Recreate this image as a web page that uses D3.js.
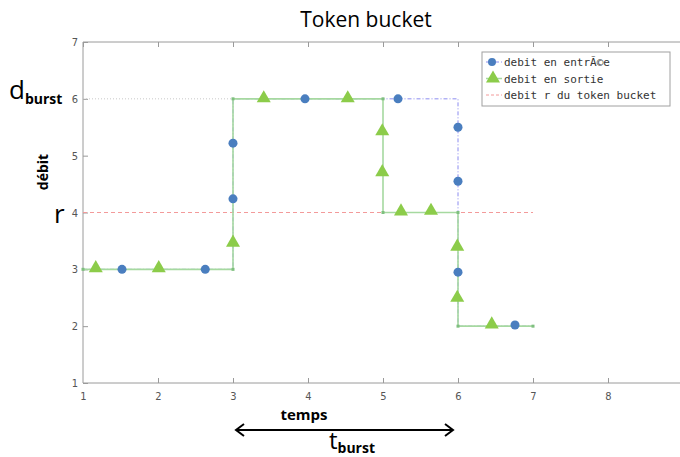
<!DOCTYPE html>
<html><head><meta charset="utf-8">
<script src="https://cdn.jsdelivr.net/npm/d3@7"></script>
<style>body{margin:0;background:#fff}svg{display:block}</style>
</head><body>
<script>
// ---- data ----
const title = "Token bucket";
const xTicks = [1,2,3,4,5,6,7,8,9];
const yTicks = [1,2,3,4,5,6,7];
const legendLabels = ["debit en entrÃ©e", "debit en sortie", "debit r du token bucket"];
// input (entrée) step profile and sample points
const inStepX = [1,3,3,6,6,7];
const inStepY = [3,3,6,6,2,2];
const inPtsX = [1.52,2.63,3,3,3.96,5.2,6,6,6,6.76];
const inPtsY = [3,3,4.24,5.22,6,6,5.5,4.55,2.95,2.02];
// output (sortie) step profile and sample points
const outStepX = [1,3,3,5,5,6,6,7];
const outStepY = [3,3,6,6,4,4,2,2];
const outPtsX = [1.17,2.01,3,3.41,4.53,4.99,4.99,5.24,5.64,5.99,5.99,6.45];
const outPtsY = [3.02,3.02,3.47,6.01,6.01,5.43,4.71,4.02,4.03,3.4,2.5,2.03];
// token rate r and burst rate
const rateX = [1,7], rateY = [4,4];
const burstX = [1,3], burstY = [6,6];

const W = 680, H = 457;
const svg = d3.select("body").append("svg").attr("width", W).attr("height", H);
const m = {left:83, top:42, right:683, bottom:383};
const x = d3.scaleLinear().domain([1,9]).range([m.left, m.right]);
const y = d3.scaleLinear().domain([1,7]).range([m.bottom, m.top]);

const axCol = "#9a9a9a", tickTxt = "#555";
// axes (box with inward ticks)
const gx = svg.append("g").attr("transform", `translate(0,${m.bottom})`)
  .call(d3.axisBottom(x).tickValues(xTicks).tickSize(-5).tickPadding(9).tickFormat(d3.format("d")));
const gxt = svg.append("g").attr("transform", `translate(0,${m.top})`)
  .call(d3.axisTop(x).tickValues(xTicks).tickSize(-5).tickFormat(""));
const gy = svg.append("g").attr("transform", `translate(${m.left},0)`)
  .call(d3.axisLeft(y).tickValues(yTicks).tickSize(-5).tickPadding(5).tickFormat(d3.format("d")));
[gx,gxt,gy].forEach(g=>{
  g.selectAll("path,line").attr("stroke", axCol);
  g.selectAll("text").attr("fill", tickTxt).style("font-family","DejaVu Sans Condensed, DejaVu Sans").style("font-size","11px");
});
gx.select(".domain").attr("d", `M${m.left},0H${m.right}`);
gxt.select(".domain").attr("d", `M${m.left},0H${m.right}`);
gy.select(".domain").attr("d", `M0,${m.bottom}V${m.top}`);
gx.selectAll(".tick").filter(d=>d===1).select("line").remove();

const line = d3.line().x(d=>x(d[0])).y(d=>y(d[1]));
const zip = (a,b)=>a.map((v,i)=>[v,b[i]]);

// burst reference (dotted gray)
svg.append("path").attr("d", line(zip(burstX,burstY))).attr("fill","none")
  .attr("stroke","#c8c8c8").attr("stroke-width",1).attr("stroke-dasharray","1,2");
// rate r (dashed red)
svg.append("path").attr("d", line(zip(rateX,rateY))).attr("fill","none")
  .attr("stroke","#f39a9a").attr("stroke-width",1).attr("stroke-dasharray","4,3");
// input step (blue dash-dot)
svg.append("path").attr("d", line(zip(inStepX,inStepY))).attr("fill","none")
  .attr("stroke","#8c8cf0").attr("stroke-width",1).attr("stroke-dasharray","4,2,1,2");
// output step (light green)
svg.append("path").attr("d", line(zip(outStepX,outStepY))).attr("fill","none")
  .attr("stroke","#a6d9a0").attr("stroke-width",1.6);
svg.selectAll(".vtx").data(zip(outStepX,outStepY)).join("rect")
  .attr("x",d=>x(d[0])-1.5).attr("y",d=>y(d[1])-1.5).attr("width",3).attr("height",3)
  .attr("fill","#7fbf7f");

const blue = "#4a7ebf", green = "#8ccc4a";
// markers
svg.selectAll(".tri").data(zip(outPtsX,outPtsY)).join("path")
  .attr("transform", d=>`translate(${x(d[0])},${y(d[1])})`)
  .attr("d", d3.symbol(d3.symbolTriangle, 85)).attr("fill", green);
svg.selectAll(".circ").data(zip(inPtsX,inPtsY)).join("path")
  .attr("transform", d=>`translate(${x(d[0])},${y(d[1])})`)
  .attr("d", d3.symbol(d3.symbolCircle, 64)).attr("fill", blue);

// legend
const lg = svg.append("g").attr("transform","translate(482,52)");
lg.append("rect").attr("width",188).attr("height",54).attr("fill","#fff").attr("stroke","#a0a0a0");
const mono = "DejaVu Sans Mono, Liberation Mono, monospace";
legendLabels.forEach((t,i)=>{
  const yy = 10 + i*16.5;
  lg.append("text").attr("x",22).attr("y",yy+4).text(t)
    .style("font-family",mono).style("font-size","11px").attr("fill","#333");
});
lg.append("line").attr("x1",4).attr("x2",20).attr("y1",10).attr("y2",10).attr("stroke","#8c8cf0").attr("stroke-dasharray","4,2,1,2");
lg.append("path").attr("transform","translate(10,10)").attr("d",d3.symbol(d3.symbolCircle,50)).attr("fill",blue);
lg.append("line").attr("x1",4).attr("x2",20).attr("y1",26.5).attr("y2",26.5).attr("stroke","#a6d9a0").attr("stroke-width",1.5);
lg.append("path").attr("transform","translate(11,26.5)").attr("d",d3.symbol(d3.symbolTriangle,85)).attr("fill",green);
lg.append("line").attr("x1",4).attr("x2",20).attr("y1",43).attr("y2",43).attr("stroke","#f39a9a").attr("stroke-dasharray","3,2");

// title
const sans = "Open Sans, Lato, sans-serif";
svg.append("text").attr("x",366).attr("y",27).attr("text-anchor","middle").text(title)
  .style("font-family",sans).style("font-size","21px").style("font-weight","500").attr("fill","#000");

// left annotations
const db = svg.append("text").attr("x",9).attr("y",99).style("font-family",sans).attr("fill","#000");
db.append("tspan").text("d").style("font-size","26px").style("font-weight","500");
db.append("tspan").text("burst").attr("dy",5).style("font-size","14px").style("font-weight","bold");
svg.append("text").attr("transform","translate(48,172) rotate(-90)").attr("text-anchor","middle")
  .text("débit").style("font-family",sans).style("font-size","14px").style("font-weight","bold");
svg.append("text").attr("x",54).attr("y",223).text("r").style("font-family",sans).style("font-size","26px").style("font-weight","500");

// bottom annotations
svg.append("text").attr("x",304).attr("y",420).attr("text-anchor","middle").text("temps")
  .style("font-family",sans).style("font-size","15px").style("font-weight","bold");
const ax1 = x(3)+3, ax2 = x(6)-5, ay = 430;
svg.append("line").attr("x1",ax1).attr("x2",ax2).attr("y1",ay).attr("y2",ay).attr("stroke","#000").attr("stroke-width",2);
svg.append("path").attr("d",`M${ax1+8},${ay-6}L${ax1},${ay}L${ax1+8},${ay+6}`).attr("fill","none").attr("stroke","#000").attr("stroke-width",2);
svg.append("path").attr("d",`M${ax2-8},${ay-6}L${ax2},${ay}L${ax2-8},${ay+6}`).attr("fill","none").attr("stroke","#000").attr("stroke-width",2);
const tb = svg.append("text").attr("x",329).attr("y",449).style("font-family",sans).attr("fill","#000");
tb.append("tspan").text("t").style("font-size","24px").style("font-weight","500");
tb.append("tspan").text("burst").attr("dy",4).style("font-size","14px").style("font-weight","bold");
</script>
</body></html>
